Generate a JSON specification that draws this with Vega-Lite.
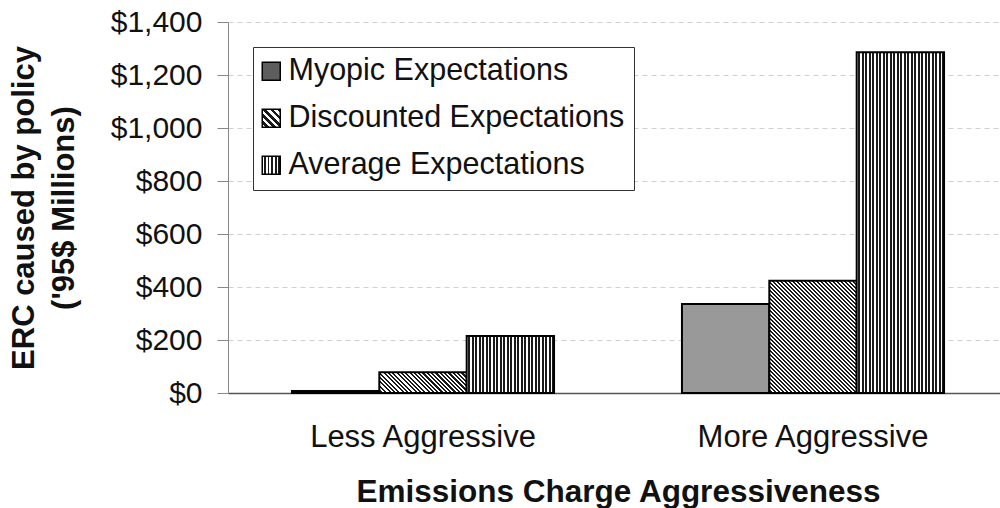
{
  "$schema": "https://vega.github.io/schema/vega-lite/v6.json",
  "width": 772,
  "height": 371,
  "autosize": {"type": "none"},
  "padding": {"left": 228, "top": 22, "right": 0, "bottom": 115},
  "background": "white",
  "config": {
    "font": "Liberation Sans",
    "view": {"stroke": null},
    "axis": {"labelColor": "#111", "titleColor": "#111"}
  },
  "data": {
    "values": [
      {"policy": "Less Aggressive", "series": "Myopic Expectations", "value": 8},
      {"policy": "Less Aggressive", "series": "Discounted Expectations", "value": 78},
      {"policy": "Less Aggressive", "series": "Average Expectations", "value": 215},
      {"policy": "More Aggressive", "series": "Myopic Expectations", "value": 336},
      {"policy": "More Aggressive", "series": "Discounted Expectations", "value": 424},
      {"policy": "More Aggressive", "series": "Average Expectations", "value": 1286}
    ]
  },
  "mark": {"type": "bar", "stroke": "#000", "strokeWidth": 2},
  "encoding": {
    "x": {
      "field": "policy", "type": "nominal",
      "scale": {"range": [0, 780], "paddingInner": 0.328, "paddingOuter": 0.164},
      "axis": {
        "title": "Emissions Charge Aggressiveness",
        "titleFontSize": 31.5, "titleFontWeight": "bold", "titlePadding": 24,
        "labelFontSize": 31, "labelAngle": 0, "labelPadding": 29, "labelLimit": 500,
        "ticks": false, "tickSize": 0,
        "domainColor": "#555", "domainWidth": 1.5
      }
    },
    "xOffset": {
      "field": "series", "type": "nominal",
      "scale": {"domain": ["Myopic Expectations", "Discounted Expectations", "Average Expectations"], "paddingInner": 0, "paddingOuter": 0}
    },
    "y": {
      "field": "value", "type": "quantitative",
      "scale": {"domain": [0, 1400], "nice": false},
      "axis": {
        "title": ["ERC caused by policy", "('95$ Millions)"],
        "titleFontSize": 31, "titleFontWeight": "bold", "titleLineHeight": 40, "titlePadding": 30,
        "values": [0, 200, 400, 600, 800, 1000, 1200, 1400],
        "format": "$,.0f",
        "labelFontSize": 30, "labelPadding": 15,
        "tickSize": 11, "tickColor": "#888",
        "domainColor": "#888",
        "grid": true, "gridColor": "#cfcfcf", "gridDash": [5, 4]
      }
    },
    "fill": {
      "field": "series", "type": "nominal",
      "scale": {
        "domain": ["Myopic Expectations", "Discounted Expectations", "Average Expectations"],
        "range": [
          "#5e5e5e",
          {"expr": "{gradient: 'linear', x1: 0, y1: 1, x2: 1, y2: 0, stops: [{offset: 0, color: '#fff'}, {offset: 0.1, color: '#fff'}, {offset: 0.1, color: '#1a1a1a'}, {offset: 0.2, color: '#1a1a1a'}, {offset: 0.2, color: '#fff'}, {offset: 0.3, color: '#fff'}, {offset: 0.3, color: '#1a1a1a'}, {offset: 0.4, color: '#1a1a1a'}, {offset: 0.4, color: '#fff'}, {offset: 0.5, color: '#fff'}, {offset: 0.5, color: '#1a1a1a'}, {offset: 0.6, color: '#1a1a1a'}, {offset: 0.6, color: '#fff'}, {offset: 0.7, color: '#fff'}, {offset: 0.7, color: '#1a1a1a'}, {offset: 0.8, color: '#1a1a1a'}, {offset: 0.8, color: '#fff'}, {offset: 0.9, color: '#fff'}, {offset: 0.9, color: '#1a1a1a'}, {offset: 1, color: '#1a1a1a'}]}"},
          {"expr": "{gradient: 'linear', x1: 0, y1: 0, x2: 1, y2: 0, stops: [{offset: 0, color: '#fff'}, {offset: 0.1, color: '#fff'}, {offset: 0.1, color: '#1a1a1a'}, {offset: 0.2, color: '#1a1a1a'}, {offset: 0.2, color: '#fff'}, {offset: 0.3, color: '#fff'}, {offset: 0.3, color: '#1a1a1a'}, {offset: 0.4, color: '#1a1a1a'}, {offset: 0.4, color: '#fff'}, {offset: 0.5, color: '#fff'}, {offset: 0.5, color: '#1a1a1a'}, {offset: 0.6, color: '#1a1a1a'}, {offset: 0.6, color: '#fff'}, {offset: 0.7, color: '#fff'}, {offset: 0.7, color: '#1a1a1a'}, {offset: 0.8, color: '#1a1a1a'}, {offset: 0.8, color: '#fff'}, {offset: 0.9, color: '#fff'}, {offset: 0.9, color: '#1a1a1a'}, {offset: 1, color: '#1a1a1a'}]}"}
        ]
      },
      "legend": {
        "title": null,
        "orient": "none", "legendX": 25, "legendY": 25,
        "direction": "vertical",
        "fillColor": "white", "strokeColor": "#333", "padding": 9,
        "labelFontSize": 30.5, "labelColor": "#111", "labelOffset": 2, "labelLimit": 500,
        "rowPadding": 16,
        "symbolType": "square", "symbolSize": 324, "symbolStrokeColor": "#000", "symbolStrokeWidth": 1.5, "symbolOffset": -6
      },
      "condition": [
        {"test": "datum.series === 'Myopic Expectations'", "value": "#999999"},
        {"test": "datum.series === 'Average Expectations'", "value": {"gradient": "linear", "x1": 0, "y1": 0, "x2": 1, "y2": 0, "stops": [
          {"offset": 0, "color": "#fff"}, {"offset": 0.02, "color": "#fff"}, {"offset": 0.02, "color": "#1a1a1a"}, {"offset": 0.04, "color": "#1a1a1a"},
          {"offset": 0.04, "color": "#fff"}, {"offset": 0.06, "color": "#fff"}, {"offset": 0.06, "color": "#1a1a1a"}, {"offset": 0.08, "color": "#1a1a1a"},
          {"offset": 0.08, "color": "#fff"}, {"offset": 0.10, "color": "#fff"}, {"offset": 0.10, "color": "#1a1a1a"}, {"offset": 0.12, "color": "#1a1a1a"},
          {"offset": 0.12, "color": "#fff"}, {"offset": 0.14, "color": "#fff"}, {"offset": 0.14, "color": "#1a1a1a"}, {"offset": 0.16, "color": "#1a1a1a"},
          {"offset": 0.16, "color": "#fff"}, {"offset": 0.18, "color": "#fff"}, {"offset": 0.18, "color": "#1a1a1a"}, {"offset": 0.20, "color": "#1a1a1a"},
          {"offset": 0.20, "color": "#fff"}, {"offset": 0.22, "color": "#fff"}, {"offset": 0.22, "color": "#1a1a1a"}, {"offset": 0.24, "color": "#1a1a1a"},
          {"offset": 0.24, "color": "#fff"}, {"offset": 0.26, "color": "#fff"}, {"offset": 0.26, "color": "#1a1a1a"}, {"offset": 0.28, "color": "#1a1a1a"},
          {"offset": 0.28, "color": "#fff"}, {"offset": 0.30, "color": "#fff"}, {"offset": 0.30, "color": "#1a1a1a"}, {"offset": 0.32, "color": "#1a1a1a"},
          {"offset": 0.32, "color": "#fff"}, {"offset": 0.34, "color": "#fff"}, {"offset": 0.34, "color": "#1a1a1a"}, {"offset": 0.36, "color": "#1a1a1a"},
          {"offset": 0.36, "color": "#fff"}, {"offset": 0.38, "color": "#fff"}, {"offset": 0.38, "color": "#1a1a1a"}, {"offset": 0.40, "color": "#1a1a1a"},
          {"offset": 0.40, "color": "#fff"}, {"offset": 0.42, "color": "#fff"}, {"offset": 0.42, "color": "#1a1a1a"}, {"offset": 0.44, "color": "#1a1a1a"},
          {"offset": 0.44, "color": "#fff"}, {"offset": 0.46, "color": "#fff"}, {"offset": 0.46, "color": "#1a1a1a"}, {"offset": 0.48, "color": "#1a1a1a"},
          {"offset": 0.48, "color": "#fff"}, {"offset": 0.50, "color": "#fff"}, {"offset": 0.50, "color": "#1a1a1a"}, {"offset": 0.52, "color": "#1a1a1a"},
          {"offset": 0.52, "color": "#fff"}, {"offset": 0.54, "color": "#fff"}, {"offset": 0.54, "color": "#1a1a1a"}, {"offset": 0.56, "color": "#1a1a1a"},
          {"offset": 0.56, "color": "#fff"}, {"offset": 0.58, "color": "#fff"}, {"offset": 0.58, "color": "#1a1a1a"}, {"offset": 0.60, "color": "#1a1a1a"},
          {"offset": 0.60, "color": "#fff"}, {"offset": 0.62, "color": "#fff"}, {"offset": 0.62, "color": "#1a1a1a"}, {"offset": 0.64, "color": "#1a1a1a"},
          {"offset": 0.64, "color": "#fff"}, {"offset": 0.66, "color": "#fff"}, {"offset": 0.66, "color": "#1a1a1a"}, {"offset": 0.68, "color": "#1a1a1a"},
          {"offset": 0.68, "color": "#fff"}, {"offset": 0.70, "color": "#fff"}, {"offset": 0.70, "color": "#1a1a1a"}, {"offset": 0.72, "color": "#1a1a1a"},
          {"offset": 0.72, "color": "#fff"}, {"offset": 0.74, "color": "#fff"}, {"offset": 0.74, "color": "#1a1a1a"}, {"offset": 0.76, "color": "#1a1a1a"},
          {"offset": 0.76, "color": "#fff"}, {"offset": 0.78, "color": "#fff"}, {"offset": 0.78, "color": "#1a1a1a"}, {"offset": 0.80, "color": "#1a1a1a"},
          {"offset": 0.80, "color": "#fff"}, {"offset": 0.82, "color": "#fff"}, {"offset": 0.82, "color": "#1a1a1a"}, {"offset": 0.84, "color": "#1a1a1a"},
          {"offset": 0.84, "color": "#fff"}, {"offset": 0.86, "color": "#fff"}, {"offset": 0.86, "color": "#1a1a1a"}, {"offset": 0.88, "color": "#1a1a1a"},
          {"offset": 0.88, "color": "#fff"}, {"offset": 0.90, "color": "#fff"}, {"offset": 0.90, "color": "#1a1a1a"}, {"offset": 0.92, "color": "#1a1a1a"},
          {"offset": 0.92, "color": "#fff"}, {"offset": 0.94, "color": "#fff"}, {"offset": 0.94, "color": "#1a1a1a"}, {"offset": 0.96, "color": "#1a1a1a"},
          {"offset": 0.96, "color": "#fff"}, {"offset": 0.98, "color": "#fff"}, {"offset": 0.98, "color": "#1a1a1a"}, {"offset": 1, "color": "#1a1a1a"}
        ]}},
        {"test": "datum.series === 'Discounted Expectations' && datum.policy === 'Less Aggressive'", "value": {"gradient": "linear", "x1": 0, "y1": 1, "x2": 1.1712, "y2": 0.7227, "stops": [
          {"offset": 0, "color": "#fff"}, {"offset": 0.02, "color": "#fff"}, {"offset": 0.02, "color": "#1a1a1a"}, {"offset": 0.04, "color": "#1a1a1a"},
          {"offset": 0.04, "color": "#fff"}, {"offset": 0.06, "color": "#fff"}, {"offset": 0.06, "color": "#1a1a1a"}, {"offset": 0.08, "color": "#1a1a1a"},
          {"offset": 0.08, "color": "#fff"}, {"offset": 0.10, "color": "#fff"}, {"offset": 0.10, "color": "#1a1a1a"}, {"offset": 0.12, "color": "#1a1a1a"},
          {"offset": 0.12, "color": "#fff"}, {"offset": 0.14, "color": "#fff"}, {"offset": 0.14, "color": "#1a1a1a"}, {"offset": 0.16, "color": "#1a1a1a"},
          {"offset": 0.16, "color": "#fff"}, {"offset": 0.18, "color": "#fff"}, {"offset": 0.18, "color": "#1a1a1a"}, {"offset": 0.20, "color": "#1a1a1a"},
          {"offset": 0.20, "color": "#fff"}, {"offset": 0.22, "color": "#fff"}, {"offset": 0.22, "color": "#1a1a1a"}, {"offset": 0.24, "color": "#1a1a1a"},
          {"offset": 0.24, "color": "#fff"}, {"offset": 0.26, "color": "#fff"}, {"offset": 0.26, "color": "#1a1a1a"}, {"offset": 0.28, "color": "#1a1a1a"},
          {"offset": 0.28, "color": "#fff"}, {"offset": 0.30, "color": "#fff"}, {"offset": 0.30, "color": "#1a1a1a"}, {"offset": 0.32, "color": "#1a1a1a"},
          {"offset": 0.32, "color": "#fff"}, {"offset": 0.34, "color": "#fff"}, {"offset": 0.34, "color": "#1a1a1a"}, {"offset": 0.36, "color": "#1a1a1a"},
          {"offset": 0.36, "color": "#fff"}, {"offset": 0.38, "color": "#fff"}, {"offset": 0.38, "color": "#1a1a1a"}, {"offset": 0.40, "color": "#1a1a1a"},
          {"offset": 0.40, "color": "#fff"}, {"offset": 0.42, "color": "#fff"}, {"offset": 0.42, "color": "#1a1a1a"}, {"offset": 0.44, "color": "#1a1a1a"},
          {"offset": 0.44, "color": "#fff"}, {"offset": 0.46, "color": "#fff"}, {"offset": 0.46, "color": "#1a1a1a"}, {"offset": 0.48, "color": "#1a1a1a"},
          {"offset": 0.48, "color": "#fff"}, {"offset": 0.50, "color": "#fff"}, {"offset": 0.50, "color": "#1a1a1a"}, {"offset": 0.52, "color": "#1a1a1a"},
          {"offset": 0.52, "color": "#fff"}, {"offset": 0.54, "color": "#fff"}, {"offset": 0.54, "color": "#1a1a1a"}, {"offset": 0.56, "color": "#1a1a1a"},
          {"offset": 0.56, "color": "#fff"}, {"offset": 0.58, "color": "#fff"}, {"offset": 0.58, "color": "#1a1a1a"}, {"offset": 0.60, "color": "#1a1a1a"},
          {"offset": 0.60, "color": "#fff"}, {"offset": 0.62, "color": "#fff"}, {"offset": 0.62, "color": "#1a1a1a"}, {"offset": 0.64, "color": "#1a1a1a"},
          {"offset": 0.64, "color": "#fff"}, {"offset": 0.66, "color": "#fff"}, {"offset": 0.66, "color": "#1a1a1a"}, {"offset": 0.68, "color": "#1a1a1a"},
          {"offset": 0.68, "color": "#fff"}, {"offset": 0.70, "color": "#fff"}, {"offset": 0.70, "color": "#1a1a1a"}, {"offset": 0.72, "color": "#1a1a1a"},
          {"offset": 0.72, "color": "#fff"}, {"offset": 0.74, "color": "#fff"}, {"offset": 0.74, "color": "#1a1a1a"}, {"offset": 0.76, "color": "#1a1a1a"},
          {"offset": 0.76, "color": "#fff"}, {"offset": 0.78, "color": "#fff"}, {"offset": 0.78, "color": "#1a1a1a"}, {"offset": 0.80, "color": "#1a1a1a"},
          {"offset": 0.80, "color": "#fff"}, {"offset": 0.82, "color": "#fff"}, {"offset": 0.82, "color": "#1a1a1a"}, {"offset": 0.84, "color": "#1a1a1a"},
          {"offset": 0.84, "color": "#fff"}, {"offset": 0.86, "color": "#fff"}, {"offset": 0.86, "color": "#1a1a1a"}, {"offset": 0.88, "color": "#1a1a1a"},
          {"offset": 0.88, "color": "#fff"}, {"offset": 0.90, "color": "#fff"}, {"offset": 0.90, "color": "#1a1a1a"}, {"offset": 0.92, "color": "#1a1a1a"},
          {"offset": 0.92, "color": "#fff"}, {"offset": 0.94, "color": "#fff"}, {"offset": 0.94, "color": "#1a1a1a"}, {"offset": 0.96, "color": "#1a1a1a"},
          {"offset": 0.96, "color": "#fff"}, {"offset": 0.98, "color": "#fff"}, {"offset": 0.98, "color": "#1a1a1a"}, {"offset": 1, "color": "#1a1a1a"}
        ]}},
        {"test": "datum.series === 'Discounted Expectations'", "value": {"gradient": "linear", "x1": 0, "y1": 1, "x2": 0.8607, "y2": -0.1082, "stops": [
          {"offset": 0, "color": "#fff"}, {"offset": 0.01, "color": "#fff"}, {"offset": 0.01, "color": "#1a1a1a"}, {"offset": 0.02, "color": "#1a1a1a"},
          {"offset": 0.02, "color": "#fff"}, {"offset": 0.03, "color": "#fff"}, {"offset": 0.03, "color": "#1a1a1a"}, {"offset": 0.04, "color": "#1a1a1a"},
          {"offset": 0.04, "color": "#fff"}, {"offset": 0.05, "color": "#fff"}, {"offset": 0.05, "color": "#1a1a1a"}, {"offset": 0.06, "color": "#1a1a1a"},
          {"offset": 0.06, "color": "#fff"}, {"offset": 0.07, "color": "#fff"}, {"offset": 0.07, "color": "#1a1a1a"}, {"offset": 0.08, "color": "#1a1a1a"},
          {"offset": 0.08, "color": "#fff"}, {"offset": 0.09, "color": "#fff"}, {"offset": 0.09, "color": "#1a1a1a"}, {"offset": 0.10, "color": "#1a1a1a"},
          {"offset": 0.10, "color": "#fff"}, {"offset": 0.11, "color": "#fff"}, {"offset": 0.11, "color": "#1a1a1a"}, {"offset": 0.12, "color": "#1a1a1a"},
          {"offset": 0.12, "color": "#fff"}, {"offset": 0.13, "color": "#fff"}, {"offset": 0.13, "color": "#1a1a1a"}, {"offset": 0.14, "color": "#1a1a1a"},
          {"offset": 0.14, "color": "#fff"}, {"offset": 0.15, "color": "#fff"}, {"offset": 0.15, "color": "#1a1a1a"}, {"offset": 0.16, "color": "#1a1a1a"},
          {"offset": 0.16, "color": "#fff"}, {"offset": 0.17, "color": "#fff"}, {"offset": 0.17, "color": "#1a1a1a"}, {"offset": 0.18, "color": "#1a1a1a"},
          {"offset": 0.18, "color": "#fff"}, {"offset": 0.19, "color": "#fff"}, {"offset": 0.19, "color": "#1a1a1a"}, {"offset": 0.20, "color": "#1a1a1a"},
          {"offset": 0.20, "color": "#fff"}, {"offset": 0.21, "color": "#fff"}, {"offset": 0.21, "color": "#1a1a1a"}, {"offset": 0.22, "color": "#1a1a1a"},
          {"offset": 0.22, "color": "#fff"}, {"offset": 0.23, "color": "#fff"}, {"offset": 0.23, "color": "#1a1a1a"}, {"offset": 0.24, "color": "#1a1a1a"},
          {"offset": 0.24, "color": "#fff"}, {"offset": 0.25, "color": "#fff"}, {"offset": 0.25, "color": "#1a1a1a"}, {"offset": 0.26, "color": "#1a1a1a"},
          {"offset": 0.26, "color": "#fff"}, {"offset": 0.27, "color": "#fff"}, {"offset": 0.27, "color": "#1a1a1a"}, {"offset": 0.28, "color": "#1a1a1a"},
          {"offset": 0.28, "color": "#fff"}, {"offset": 0.29, "color": "#fff"}, {"offset": 0.29, "color": "#1a1a1a"}, {"offset": 0.30, "color": "#1a1a1a"},
          {"offset": 0.30, "color": "#fff"}, {"offset": 0.31, "color": "#fff"}, {"offset": 0.31, "color": "#1a1a1a"}, {"offset": 0.32, "color": "#1a1a1a"},
          {"offset": 0.32, "color": "#fff"}, {"offset": 0.33, "color": "#fff"}, {"offset": 0.33, "color": "#1a1a1a"}, {"offset": 0.34, "color": "#1a1a1a"},
          {"offset": 0.34, "color": "#fff"}, {"offset": 0.35, "color": "#fff"}, {"offset": 0.35, "color": "#1a1a1a"}, {"offset": 0.36, "color": "#1a1a1a"},
          {"offset": 0.36, "color": "#fff"}, {"offset": 0.37, "color": "#fff"}, {"offset": 0.37, "color": "#1a1a1a"}, {"offset": 0.38, "color": "#1a1a1a"},
          {"offset": 0.38, "color": "#fff"}, {"offset": 0.39, "color": "#fff"}, {"offset": 0.39, "color": "#1a1a1a"}, {"offset": 0.40, "color": "#1a1a1a"},
          {"offset": 0.40, "color": "#fff"}, {"offset": 0.41, "color": "#fff"}, {"offset": 0.41, "color": "#1a1a1a"}, {"offset": 0.42, "color": "#1a1a1a"},
          {"offset": 0.42, "color": "#fff"}, {"offset": 0.43, "color": "#fff"}, {"offset": 0.43, "color": "#1a1a1a"}, {"offset": 0.44, "color": "#1a1a1a"},
          {"offset": 0.44, "color": "#fff"}, {"offset": 0.45, "color": "#fff"}, {"offset": 0.45, "color": "#1a1a1a"}, {"offset": 0.46, "color": "#1a1a1a"},
          {"offset": 0.46, "color": "#fff"}, {"offset": 0.47, "color": "#fff"}, {"offset": 0.47, "color": "#1a1a1a"}, {"offset": 0.48, "color": "#1a1a1a"},
          {"offset": 0.48, "color": "#fff"}, {"offset": 0.49, "color": "#fff"}, {"offset": 0.49, "color": "#1a1a1a"}, {"offset": 0.50, "color": "#1a1a1a"},
          {"offset": 0.50, "color": "#fff"}, {"offset": 0.51, "color": "#fff"}, {"offset": 0.51, "color": "#1a1a1a"}, {"offset": 0.52, "color": "#1a1a1a"},
          {"offset": 0.52, "color": "#fff"}, {"offset": 0.53, "color": "#fff"}, {"offset": 0.53, "color": "#1a1a1a"}, {"offset": 0.54, "color": "#1a1a1a"},
          {"offset": 0.54, "color": "#fff"}, {"offset": 0.55, "color": "#fff"}, {"offset": 0.55, "color": "#1a1a1a"}, {"offset": 0.56, "color": "#1a1a1a"},
          {"offset": 0.56, "color": "#fff"}, {"offset": 0.57, "color": "#fff"}, {"offset": 0.57, "color": "#1a1a1a"}, {"offset": 0.58, "color": "#1a1a1a"},
          {"offset": 0.58, "color": "#fff"}, {"offset": 0.59, "color": "#fff"}, {"offset": 0.59, "color": "#1a1a1a"}, {"offset": 0.60, "color": "#1a1a1a"},
          {"offset": 0.60, "color": "#fff"}, {"offset": 0.61, "color": "#fff"}, {"offset": 0.61, "color": "#1a1a1a"}, {"offset": 0.62, "color": "#1a1a1a"},
          {"offset": 0.62, "color": "#fff"}, {"offset": 0.63, "color": "#fff"}, {"offset": 0.63, "color": "#1a1a1a"}, {"offset": 0.64, "color": "#1a1a1a"},
          {"offset": 0.64, "color": "#fff"}, {"offset": 0.65, "color": "#fff"}, {"offset": 0.65, "color": "#1a1a1a"}, {"offset": 0.66, "color": "#1a1a1a"},
          {"offset": 0.66, "color": "#fff"}, {"offset": 0.67, "color": "#fff"}, {"offset": 0.67, "color": "#1a1a1a"}, {"offset": 0.68, "color": "#1a1a1a"},
          {"offset": 0.68, "color": "#fff"}, {"offset": 0.69, "color": "#fff"}, {"offset": 0.69, "color": "#1a1a1a"}, {"offset": 0.70, "color": "#1a1a1a"},
          {"offset": 0.70, "color": "#fff"}, {"offset": 0.71, "color": "#fff"}, {"offset": 0.71, "color": "#1a1a1a"}, {"offset": 0.72, "color": "#1a1a1a"},
          {"offset": 0.72, "color": "#fff"}, {"offset": 0.73, "color": "#fff"}, {"offset": 0.73, "color": "#1a1a1a"}, {"offset": 0.74, "color": "#1a1a1a"},
          {"offset": 0.74, "color": "#fff"}, {"offset": 0.75, "color": "#fff"}, {"offset": 0.75, "color": "#1a1a1a"}, {"offset": 0.76, "color": "#1a1a1a"},
          {"offset": 0.76, "color": "#fff"}, {"offset": 0.77, "color": "#fff"}, {"offset": 0.77, "color": "#1a1a1a"}, {"offset": 0.78, "color": "#1a1a1a"},
          {"offset": 0.78, "color": "#fff"}, {"offset": 0.79, "color": "#fff"}, {"offset": 0.79, "color": "#1a1a1a"}, {"offset": 0.80, "color": "#1a1a1a"},
          {"offset": 0.80, "color": "#fff"}, {"offset": 0.81, "color": "#fff"}, {"offset": 0.81, "color": "#1a1a1a"}, {"offset": 0.82, "color": "#1a1a1a"},
          {"offset": 0.82, "color": "#fff"}, {"offset": 0.83, "color": "#fff"}, {"offset": 0.83, "color": "#1a1a1a"}, {"offset": 0.84, "color": "#1a1a1a"},
          {"offset": 0.84, "color": "#fff"}, {"offset": 0.85, "color": "#fff"}, {"offset": 0.85, "color": "#1a1a1a"}, {"offset": 0.86, "color": "#1a1a1a"},
          {"offset": 0.86, "color": "#fff"}, {"offset": 0.87, "color": "#fff"}, {"offset": 0.87, "color": "#1a1a1a"}, {"offset": 0.88, "color": "#1a1a1a"},
          {"offset": 0.88, "color": "#fff"}, {"offset": 0.89, "color": "#fff"}, {"offset": 0.89, "color": "#1a1a1a"}, {"offset": 0.90, "color": "#1a1a1a"},
          {"offset": 0.90, "color": "#fff"}, {"offset": 0.91, "color": "#fff"}, {"offset": 0.91, "color": "#1a1a1a"}, {"offset": 0.92, "color": "#1a1a1a"},
          {"offset": 0.92, "color": "#fff"}, {"offset": 0.93, "color": "#fff"}, {"offset": 0.93, "color": "#1a1a1a"}, {"offset": 0.94, "color": "#1a1a1a"},
          {"offset": 0.94, "color": "#fff"}, {"offset": 0.95, "color": "#fff"}, {"offset": 0.95, "color": "#1a1a1a"}, {"offset": 0.96, "color": "#1a1a1a"},
          {"offset": 0.96, "color": "#fff"}, {"offset": 0.97, "color": "#fff"}, {"offset": 0.97, "color": "#1a1a1a"}, {"offset": 0.98, "color": "#1a1a1a"},
          {"offset": 0.98, "color": "#fff"}, {"offset": 0.99, "color": "#fff"}, {"offset": 0.99, "color": "#1a1a1a"}, {"offset": 1, "color": "#1a1a1a"}
        ]}}
      ]
    }
  }
}
